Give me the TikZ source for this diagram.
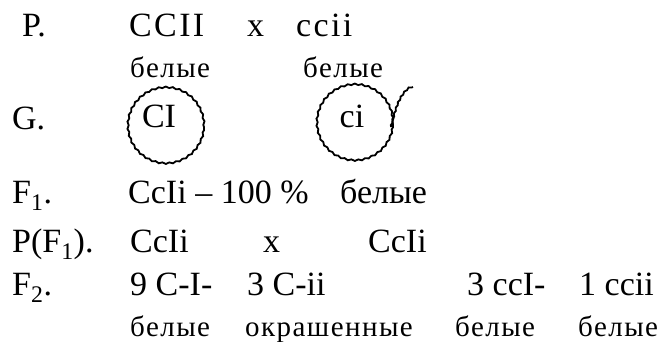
\documentclass[tikz,border=0pt]{standalone}
\usepackage{fontspec}
\setmainfont{Liberation Serif}
\newfontfamily\spacedf[LetterSpace=7]{Liberation Serif}
\newfontfamily\smallf[LetterSpace=5]{Liberation Serif}
\usetikzlibrary{decorations.pathmorphing}
\begin{document}
\begin{tikzpicture}[x=1pt,y=-1pt,
  txt/.style={anchor=base west, inner sep=0pt, font=\fontsize{34}{40}\selectfont},
  sptxt/.style={anchor=base west, inner sep=0pt, font=\spacedf\fontsize{34}{40}\selectfont},
  smtxt/.style={anchor=base west, inner sep=0pt, font=\smallf\fontsize{29}{34}\selectfont},
  ctxt/.style={anchor=base, inner sep=0pt, font=\fontsize{34}{40}\selectfont},
  wavy/.style={line width=1.8pt, decorate, decoration={snake, amplitude=0.7pt, segment length=7pt}}]
\useasboundingbox (0,0) rectangle (658,342);
% row P
\node[txt] (p) at (22,37) {P.};
\node[sptxt] (pa) at (129,37) {CCII};
\node[txt] (px) at (247,37) {x};
\node[sptxt] (pb) at (296,37) {ccii};
\node[smtxt] (pw1) at (130,78) {белые};
\node[smtxt] (pw2) at (303,78) {белые};
% row G
\node[txt] (g) at (12,129) {G.};
\coordinate (c1) at (166,127);
\coordinate (c2) at (355,124);
\node[ctxt] (g1) at (159,128) {CI};
\node[ctxt] (g2) at (352,128) {ci};
\draw[wavy] (c1) circle[radius=38pt];
\draw[wavy] (c2) circle[radius=38pt];
\coordinate (t0) at (391,127);
\coordinate (t1) at (413,87);
\draw[line width=1.8pt, decorate, decoration={snake, amplitude=0.6pt, segment length=6pt}]
  (t0) .. controls (395,110) and (400,92) .. (t1);
% row F1
\node[txt] (f1) at (12,203) {F\textsubscript{1}.};
\node[txt] (f1a) at (128,203) {CcIi – 100 \%};
\node[txt] (f1w) at (340,203) {белые};
% row P(F1)
\node[txt] (pf) at (12,252) {P(F\textsubscript{1}).};
\node[txt] (pfa) at (130,252) {CcIi};
\node[txt] (pfx) at (263,252) {x};
\node[txt] (pfb) at (368,252) {CcIi};
% row F2
\node[txt] (f2) at (12,295) {F\textsubscript{2}.};
\node[txt] (f2a) at (130,295) {9 C-I-};
\node[txt] (f2b) at (247,295) {3 C-ii};
\node[txt] (f2c) at (467,295) {3 ccI-};
\node[txt] (f2d) at (579,295) {1 ccii};
\node[smtxt] (w1) at (130,336) {белые};
\node[smtxt] (w2) at (245,336) {окрашенные};
\node[smtxt] (w3) at (455,336) {белые};
\node[smtxt] (w4) at (578,336) {белые};
\end{tikzpicture}
\end{document}
